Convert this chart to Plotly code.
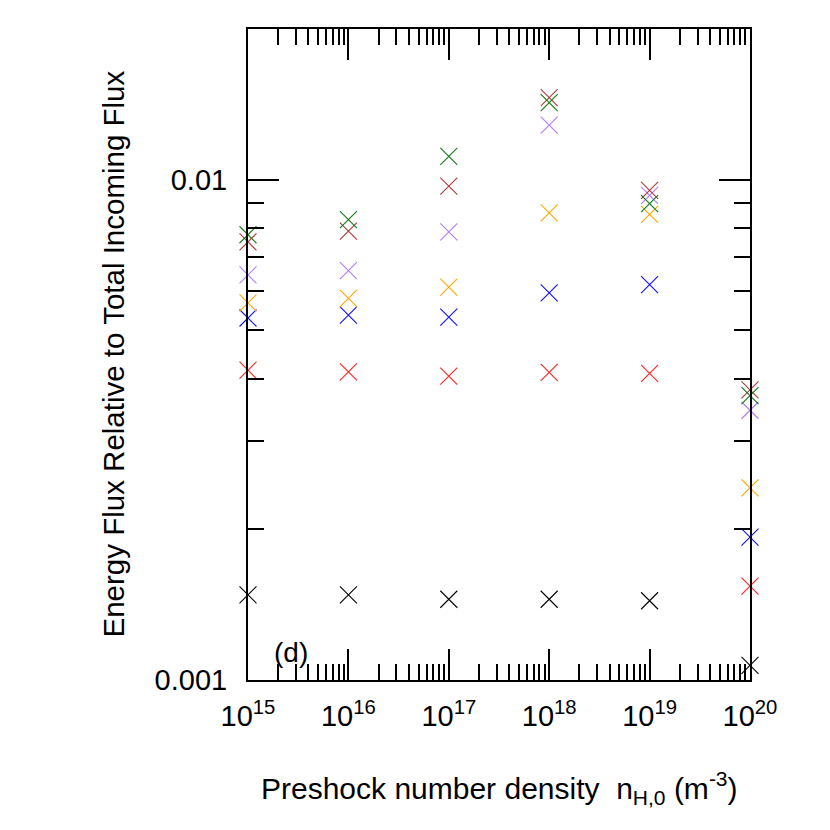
import plotly.graph_objects as go

# densidade pre-choque (m^-3)
densidade = [1e15, 1e16, 1e17, 1e18, 1e19, 1e20]

# fluxo de energia relativo ao fluxo total incidente, uma serie por cor
serie_preto = [0.00148, 0.00148, 0.00145, 0.00145, 0.00144, 0.00107]
serie_vermelho = [0.00416, 0.00413, 0.00405, 0.00412, 0.00410, 0.00154]
serie_azul = [0.00529, 0.00536, 0.00531, 0.00594, 0.00617, 0.00193]
serie_laranja = [0.00567, 0.00579, 0.00610, 0.00858, 0.00852, 0.00242]
serie_roxo = [0.00645, 0.00658, 0.00786, 0.01285, 0.00930, 0.00346]
serie_marrom = [0.00751, 0.00789, 0.00971, 0.01458, 0.00952, 0.00380]
serie_verde = [0.00776, 0.00832, 0.01113, 0.01425, 0.00895, 0.00370]

series = [
    (serie_preto, "black"),
    (serie_vermelho, "#ff2020"),
    (serie_azul, "#1010ff"),
    (serie_laranja, "#ffa500"),
    (serie_roxo, "#b27cff"),
    (serie_marrom, "#b03a3a"),
    (serie_verde, "#127a12"),
]

x_ticks = [1e15, 1e16, 1e17, 1e18, 1e19, 1e20]
x_labels = ["10<sup>15</sup>", "10<sup>16</sup>", "10<sup>17</sup>",
            "10<sup>18</sup>", "10<sup>19</sup>", "10<sup>20</sup>"]
y_ticks = [0.001, 0.01]
y_labels = ["0.001", "0.01"]

fonte = "Liberation Sans, Arial, sans-serif"

fig = go.Figure()
for valores, cor in series:
    fig.add_trace(go.Scatter(
        x=densidade, y=valores, mode="markers",
        marker=dict(symbol="x-thin", size=17, line=dict(color=cor, width=1.1)),
        cliponaxis=False, showlegend=False,
    ))

eixo = dict(
    type="log", showgrid=False, zeroline=False,
    showline=True, linecolor="black", linewidth=2, mirror="allticks",
    ticks="inside", ticklen=31, tickwidth=2, tickcolor="black",
    tickfont=dict(family=fonte, size=29, color="black"),
    minor=dict(ticks="inside", ticklen=16, tickwidth=2, tickcolor="black",
               dtick="D1", showgrid=False),
)

# a pagina tem margem de 8px no body, por isso as margens estao deslocadas
fig.update_layout(
    width=830, height=830,
    margin=dict(l=240, r=88, t=21, b=158),
    plot_bgcolor="white", paper_bgcolor="white",
    font=dict(family=fonte, size=29, color="black"),
    xaxis=dict(eixo, range=[14.99999, 20.00001], tickvals=x_ticks, ticktext=x_labels,
               ticklabelstandoff=9),
    yaxis=dict(eixo, range=[-3.00001, 1.30103 - 3], tickvals=y_ticks, ticktext=y_labels,
               ticklabelstandoff=13),
    annotations=[
        dict(text="Energy Flux Relative to Total Incoming Flux", textangle=-90,
             xref="paper", yref="paper", x=0, y=0.5, xshift=-135,
             xanchor="center", yanchor="middle",
             showarrow=False, font=dict(size=29.5)),
        dict(text="Preshock number density  n<sub>H,0</sub> (m<sup>-3</sup>)",
             xref="paper", yref="paper", x=0.5, y=0, yshift=-108,
             xanchor="center", yanchor="middle",
             showarrow=False, font=dict(size=30)),
        dict(text="(d)", xref="paper", yref="paper", x=0.0857, y=0.0415,
             xanchor="center", yanchor="middle",
             showarrow=False, font=dict(size=28)),
    ],
)

fig.write_html("out.html")
